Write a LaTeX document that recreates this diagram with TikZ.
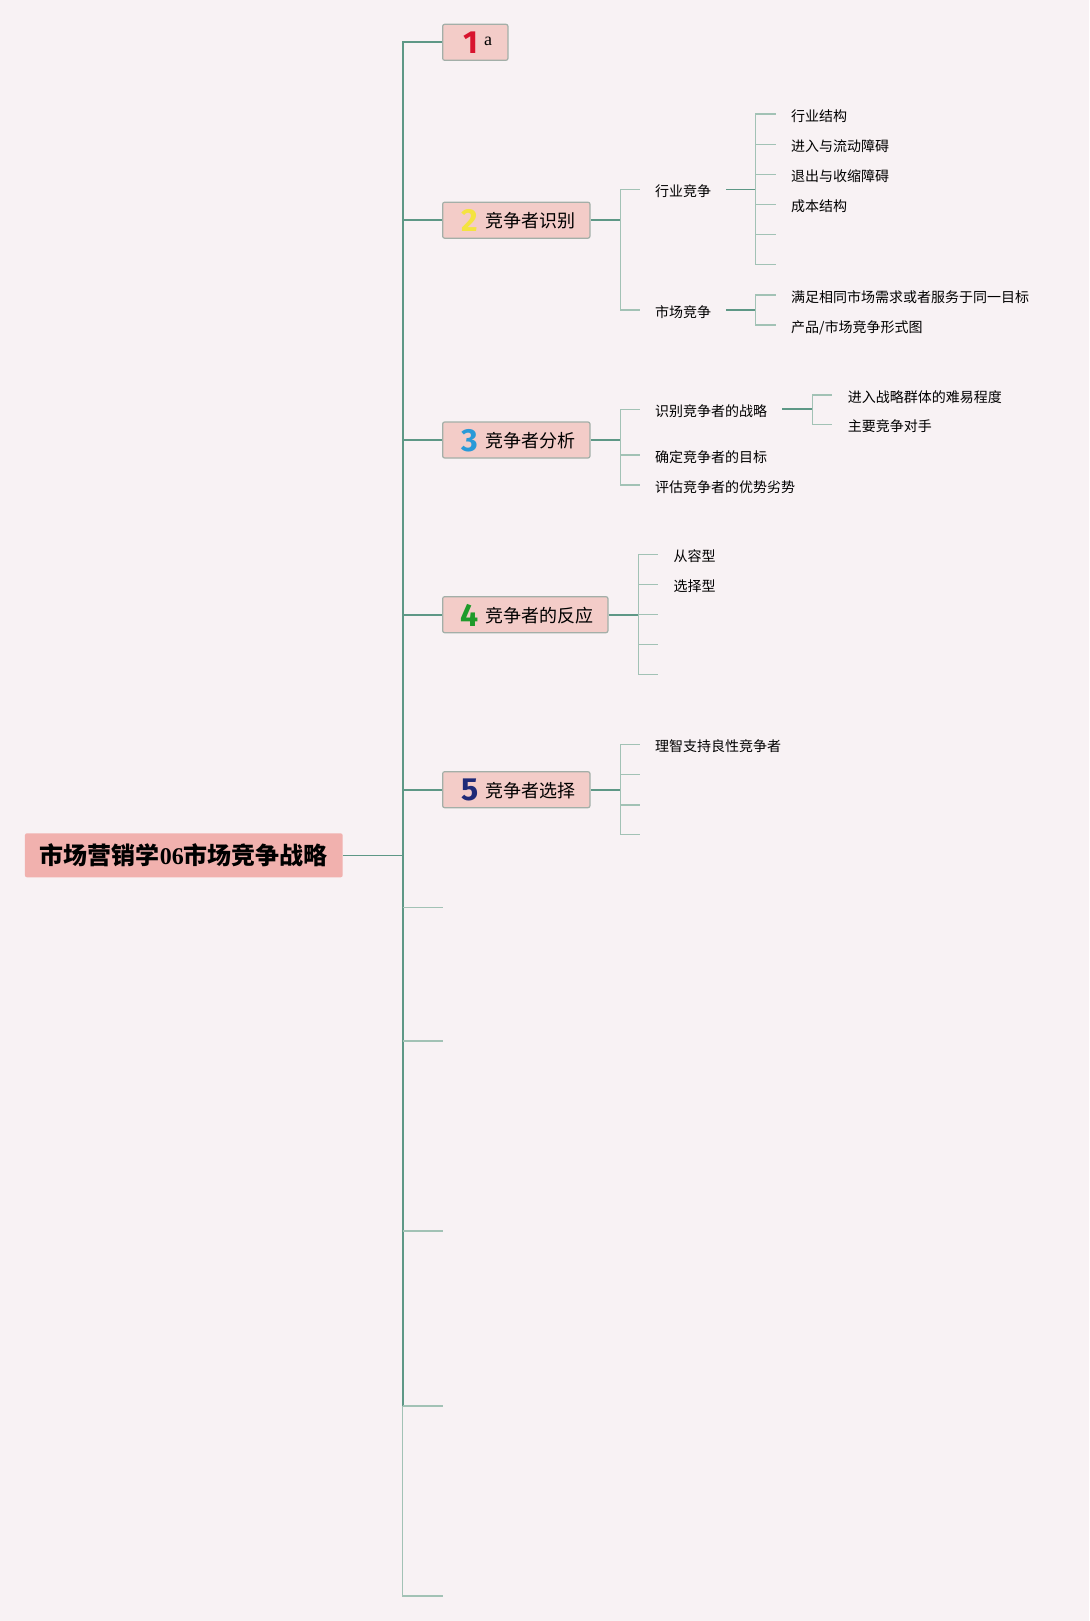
\documentclass[tikz,border=0pt]{standalone}
\usepackage{fontspec}
\setmainfont{Noto Sans CJK SC}
\newfontfamily\numf{Fira Sans}
\newfontfamily\serf{Liberation Serif}
\usetikzlibrary{calc}
\definecolor{bgc}{HTML}{F8F2F4}
\definecolor{boxfill}{HTML}{F3CCC8}
\definecolor{boxline}{HTML}{A3AFA8}
\definecolor{rootfill}{HTML}{F1B1AE}
\definecolor{darkl}{HTML}{5E9886}
\definecolor{lightl}{HTML}{A2C2B5}
\definecolor{nred}{HTML}{D8142E}
\definecolor{nyel}{HTML}{F4E340}
\definecolor{nblu}{HTML}{2A9AD8}
\definecolor{ngrn}{HTML}{1E9A2A}
\definecolor{nnav}{HTML}{1F2A78}
\tikzset{
  rootbox/.style={fill=rootfill, rounded corners=2pt, minimum width=317.7pt, minimum height=44pt, inner sep=0pt, font=\fontsize{24}{28}\selectfont\bfseries},
  topbox/.style={fill=boxfill, draw=boxline, line width=1.2pt, rounded corners=2pt, minimum height=36pt, inner sep=0pt},
  numtxt/.style={inner sep=0pt, font=\numf\bfseries\fontsize{32}{32}\selectfont},
  boxtxt/.style={inner sep=0pt, anchor=west, font=\fontsize{18}{20}\selectfont},
  subtxt/.style={inner xsep=15pt, inner ysep=0pt, text height=14.5pt, text depth=0pt, anchor=west, font=\fontsize{14}{16}\selectfont},
  darkln/.style={draw=darkl, line width=1.7pt},
  lightln/.style={draw=lightl, line width=1.5pt},
  rootln/.style={draw=darkl, line width=1.1pt}
}
\begin{document}
\begin{tikzpicture}[x=1pt,y=-1pt]
\fill[bgc] (0,0) rectangle (1089,1621);
\useasboundingbox (0,0) rectangle (1089,1621);

% root
\node[rootbox] (root) at (183.8,855.3) {市场营销学{\serf\bfseries 06}市场竞争战略};
\coordinate (tr) at (402.7,855.3);

% top boxes
\node[topbox, minimum width=65.3pt] (b1) at (475.3,42.3) {};
\node[topbox, minimum width=147.3pt] (b2) at (516.3,220.2) {};
\node[topbox, minimum width=147.3pt] (b3) at (516.3,440) {};
\node[topbox, minimum width=165.3pt] (b4) at (525.3,614.7) {};
\node[topbox, minimum width=147.3pt] (b5) at (516.3,789.7) {};

\node[numtxt, text=nred] (n1) at (470.5,42.6) {1};
\node[inner sep=0pt, anchor=base west, font=\serf\fontsize{18}{20}\selectfont] (t1) at (484,46) {a};
\node[numtxt, text=nyel] (n2) at (470,220.5) {2};
\node[boxtxt] (t2) at (485.5,220.8) {竞争者识别};
\node[numtxt, text=nblu] (n3) at (470,440.3) {3};
\node[boxtxt] (t3) at (485.5,440.6) {竞争者分析};
\node[numtxt, text=ngrn] (n4) at (470,615) {4};
\node[boxtxt] (t4) at (485.5,615.3) {竞争者的反应};
\node[numtxt, text=nnav] (n5) at (470,790) {5};
\node[boxtxt] (t5) at (485.5,790.3) {竞争者选择};

% empty trunk branches
\coordinate (e1) at (442.7,907.7);
\coordinate (e2) at (442.7,1041);
\coordinate (e3) at (442.7,1231);
\coordinate (e4) at (442.7,1406);
\coordinate (e5) at (442.7,1596);

% trunk
\draw[rootln] (root.east) -- (tr);
\foreach \b in {b1,b2,b3,b4,b5} { \draw[darkln] (tr) |- (\b.west); }
\draw[darkln] (tr) -- (tr |- e4);
\foreach \e in {e1,e2,e3,e4} { \draw[lightln] (tr |- \e) -- (\e); }
\draw[lightln] (tr |- e4) |- (e5);

% ---- box 2 children
\node[subtxt] (hy) at (640,189.5) {行业竞争};
\node[subtxt] (sc) at (640,310) {市场竞争};
\draw[darkln] (b2.east) -- ++(30,0) coordinate (v2);
\foreach \c in {hy,sc} { \draw[lightln] (v2) |- (\c.west); }

\node[subtxt] (l1) at (776,114) {行业结构};
\node[subtxt] (l2) at (776,144.3) {进入与流动障碍};
\node[subtxt] (l3) at (776,174.3) {退出与收缩障碍};
\node[subtxt] (l4) at (776,204.3) {成本结构};
\coordinate (l5) at (776,234.7);
\coordinate (l6) at (776,264.7);
\draw[darkln] (hy.east) -- ++(29,0) coordinate (vh);
\foreach \c in {l1,l2,l3,l4} { \draw[lightln] (vh) |- (\c.west); }
\foreach \c in {l5,l6} { \draw[lightln] (vh) |- (\c); }

\node[subtxt] (m1) at (776,295) {满足相同市场需求或者服务于同一目标};
\node[subtxt] (m2) at (776,325) {产品/市场竞争形式图};
\draw[darkln] (sc.east) -- ++(29,0) coordinate (vs);
\foreach \c in {m1,m2} { \draw[lightln] (vs) |- (\c.west); }

% ---- box 3 children
\node[subtxt] (a1) at (640,409.3) {识别竞争者的战略};
\node[subtxt] (a2) at (640,455) {确定竞争者的目标};
\node[subtxt] (a3) at (640,485) {评估竞争者的优势劣势};
\draw[darkln] (b3.east) -- ++(30,0) coordinate (v3);
\foreach \c in {a1,a2,a3} { \draw[lightln] (v3) |- (\c.west); }

\node[subtxt, inner xsep=16pt] (s1) at (831.7,395) {进入战略群体的难易程度};
\node[subtxt, inner xsep=16pt] (s2) at (831.7,424.3) {主要竞争对手};
\draw[darkln] (a1.east) -- ++(30,0) coordinate (va);
\foreach \c in {s1,s2} { \draw[lightln] (va) |- (\c.west); }

% ---- box 4 children
\node[subtxt] (r1) at (658.3,554.7) {从容型};
\node[subtxt] (r2) at (658.3,584.3) {选择型};
\coordinate (r3) at (658.3,614.7);
\coordinate (r4) at (658.3,644.7);
\coordinate (r5) at (658.3,674.7);
\draw[darkln] (b4.east) -- ++(29.7,0) coordinate (v4);
\foreach \c in {r1,r2} { \draw[lightln] (v4) |- (\c.west); }
\foreach \c in {r3,r4,r5} { \draw[lightln] (v4) |- (\c); }

% ---- box 5 children
\node[subtxt] (x1) at (640,744.7) {理智支持良性竞争者};
\coordinate (x2) at (640,774.3);
\coordinate (x3) at (640,805);
\coordinate (x4) at (640,834.7);
\draw[darkln] (b5.east) -- ++(30,0) coordinate (v5);
\draw[lightln] (v5) |- (x1.west);
\foreach \c in {x2,x3,x4} { \draw[lightln] (v5) |- (\c); }
\end{tikzpicture}
\end{document}
